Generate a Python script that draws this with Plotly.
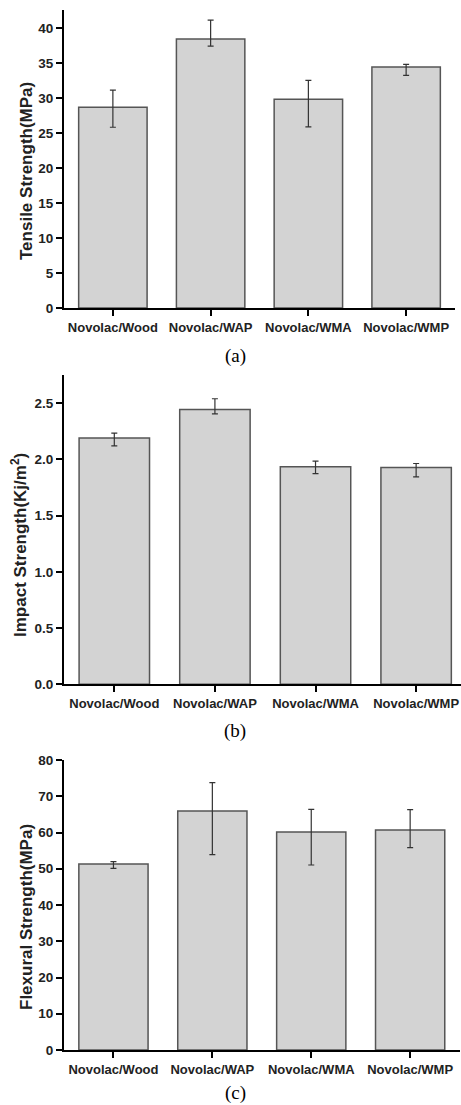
import plotly.graph_objects as go

categories = ["Novolac/Wood", "Novolac/WAP", "Novolac/WMA", "Novolac/WMP"]

tensile = [28.67, 38.43, 29.81, 34.43]
tensile_err_plus = [2.45, 2.70, 2.70, 0.37]
tensile_err_minus = [2.85, 1.03, 3.95, 1.19]

impact = [2.189, 2.444, 1.934, 1.928]
impact_err_plus = [0.044, 0.095, 0.050, 0.035]
impact_err_minus = [0.069, 0.039, 0.060, 0.083]

flexural = [51.31, 65.93, 60.14, 60.69]
flexural_err_plus = [0.64, 7.82, 6.25, 5.61]
flexural_err_minus = [1.20, 12.04, 9.11, 4.87]

W, H = 461, 1105
FONT = "Liberation Sans, Arial, sans-serif"

def px(x):
    return x / W

def py(y):
    return 1 - y / H

fig = go.Figure()

panels = [
    dict(vals=tensile, ep=tensile_err_plus, em=tensile_err_minus,
         xd=[px(64), px(455)], yd=[py(308), py(10)], xr=[-0.5, 3.5], yr=[0, 42.57],
         dtick=5, fmt="d", title="Tensile Strength(MPa)", tx=26, ty=171, cap="(a)", cy=356),
    dict(vals=impact, ep=impact_err_plus, em=impact_err_minus,
         xd=[px(64), 1.0], yd=[py(684.3), py(375)], xr=[-0.5, 3.446], yr=[0, 2.75],
         dtick=0.5, fmt=".1f", title="Impact Strength(Kj/m<sup>2</sup>)", tx=19, ty=545, cap="(b)", cy=731),
    dict(vals=flexural, ep=flexural_err_plus, em=flexural_err_minus,
         xd=[px(64), px(459.6)], yd=[py(1050), py(760)], xr=[-0.5, 3.5], yr=[0, 80],
         dtick=10, fmt="d", title="Flexural Strength(MPa)", tx=26, ty=917, cap="(c)", cy=1093),
]

annotations = []
for i, p in enumerate(panels, start=1):
    xa = "x" if i == 1 else f"x{i}"
    ya = "y" if i == 1 else f"y{i}"
    fig.add_trace(go.Bar(
        x=categories, y=p["vals"], xaxis=xa, yaxis=ya, width=0.7,
        marker=dict(color="#d3d3d3", line=dict(color="#555555", width=1.5)),
        error_y=dict(type="data", symmetric=False, array=p["ep"], arrayminus=p["em"],
                     color="#333333", thickness=1.2, width=3),
        showlegend=False, hoverinfo="x+y",
    ))
    axis_common = dict(showline=True, linecolor="black", linewidth=2, ticks="outside",
                       ticklen=6, tickwidth=1.5, tickcolor="black", showgrid=False,
                       zeroline=False, automargin=False)
    fig.layout[f"xaxis{'' if i == 1 else i}"] = dict(
        domain=p["xd"], range=p["xr"], anchor=ya, type="category",
        tickfont=dict(family=FONT, size=13, color="#222222", weight="bold"), **axis_common)
    fig.layout[f"yaxis{'' if i == 1 else i}"] = dict(
        domain=p["yd"], range=p["yr"], anchor=xa, dtick=p["dtick"], tick0=0, tickformat=p["fmt"],
        tickfont=dict(family=FONT, size=13.5, color="#222222", weight="bold"), **axis_common)
    annotations.append(dict(
        text=p["title"], x=px(p["tx"]), y=py(p["ty"]), xref="paper", yref="paper",
        textangle=-90, showarrow=False, xanchor="center", yanchor="middle",
        font=dict(family=FONT, size=17, color="#222222", weight="bold")))
    annotations.append(dict(
        text=p["cap"], x=px(235), y=py(p["cy"]), xref="paper", yref="paper",
        showarrow=False, xanchor="center", yanchor="middle",
        font=dict(family="Liberation Serif, Times New Roman, serif", size=19, color="black")))

fig.update_layout(
    width=W, height=H, margin=dict(l=0, r=0, t=0, b=0),
    paper_bgcolor="white", plot_bgcolor="white",
    annotations=annotations, bargap=0.3,
)

fig.write_html("out.html", config={"displayModeBar": False},
               post_script="document.body.style.margin='0';document.body.style.overflow='hidden';")
